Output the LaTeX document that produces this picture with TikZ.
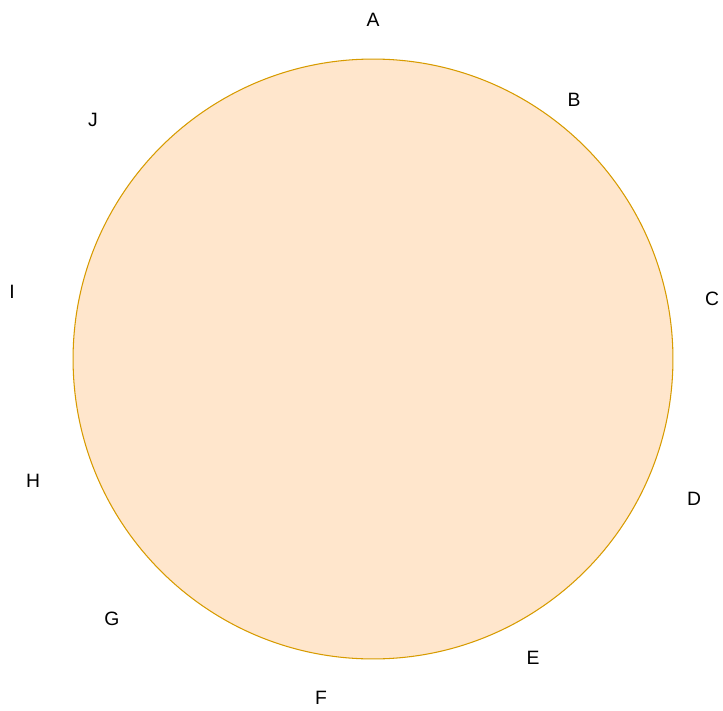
\documentclass[tikz,border=0pt]{standalone}
\usepackage{fontspec}
\setmainfont{Liberation Sans}
\usepackage{xcolor}
\definecolor{peach}{HTML}{FFE6CC}
\definecolor{amber}{HTML}{D79B00}

\begin{document}
\begin{tikzpicture}[
        x=0.02cm, y=-0.02cm,
        every node/.style={font=\fontsize{11}{13}\selectfont},
        ring/.style={circle, draw=amber, line width=0.6pt, fill=peach, minimum size=12cm, inner sep=0pt},
        mark label/.style={inner sep=0pt}
    ]
        \useasboundingbox (0,0) rectangle (723,710);
        \node[ring] (disc) at (373,359) {};

        \node[mark label] (A) at (373,20) {A};
        \node[mark label] (B) at (574,100) {B};
        \node[mark label] (C) at (712,299) {C};
        \node[mark label] (D) at (694,499) {D};
        \node[mark label] (E) at (533,658) {E};
        \node[mark label] (F) at (321,698) {F};
        \node[mark label] (G) at (112,619) {G};
        \node[mark label] (H) at (33,481) {H};
        \node[mark label] (I) at (12,292) {I};
        \node[mark label] (J) at (93,120) {J};
    \end{tikzpicture}
\end{document}
